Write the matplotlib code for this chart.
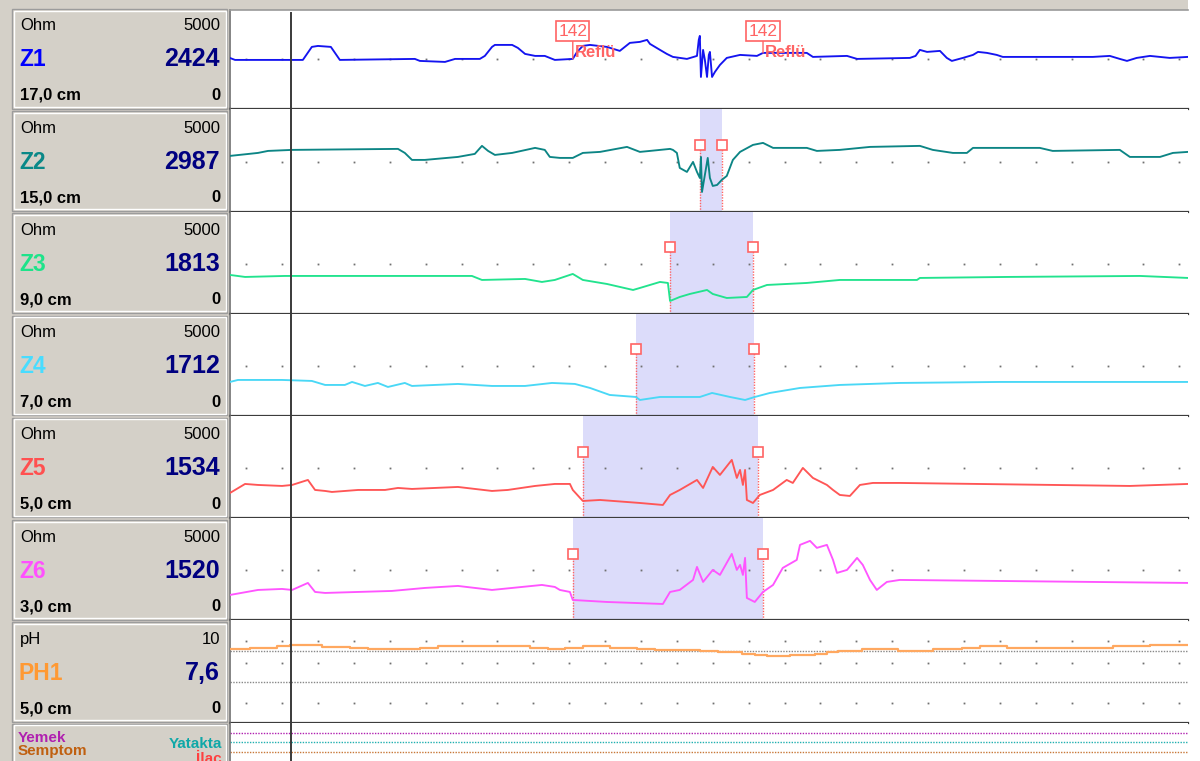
import numpy as np
import matplotlib.pyplot as plt
from matplotlib.patches import Rectangle

plt.rcParams['font.family'] = ['Liberation Sans', 'DejaVu Sans']

# impedance channels: time (s) and impedance (Ohm)
z1_t = [0, 0.14, 2.03, 2.28, 2.45, 2.81, 3.06, 5.15, 5.29, 5.99, 6.27, 6.96, 7.10, 7.30, 7.38,
        7.86, 8.02, 8.22, 8.50, 8.77, 9.05, 9.55, 9.67, 9.83, 10.03, 10.50, 10.86, 11.14, 11.42,
        11.62, 11.70, 11.98, 12.17, 12.34, 12.73, 13.01, 13.06, 13.09, 13.12, 13.18, 13.23, 13.29,
        13.34, 13.37, 13.43, 13.51, 13.65, 13.84, 14.21, 14.68, 14.85, 16.07, 16.24, 17.19, 17.47,
        18.94, 19.10, 19.22, 19.42, 19.78, 19.97, 20.11, 20.42, 20.70, 20.84, 21.09, 21.36, 21.53,
        24.04, 24.51, 24.79, 24.99, 25.26, 25.63, 26.18, 26.69]
z1_v = [2510, 2416, 2416, 3053, 3100, 3053, 2416, 2465, 2367, 2318, 2465, 2465, 2612, 3053, 3150,
        3150, 3004, 2710, 2612, 2612, 2416, 2465, 2808, 3102, 3150, 3053, 2857, 3249, 3298,
        3396, 3200, 2906, 2710, 2563, 2465, 2612, 3396, 3592, 1582, 2906, 2416, 1582,
        2660, 2808, 1582, 1828, 2171, 2514, 2661, 2612, 2759, 2759, 2563, 2612, 2465,
        2514, 2612, 2906, 2808, 2857, 2514, 2367, 2514, 2661, 2808, 2759, 2661, 2563,
        2563, 2612, 2465, 2367, 2514, 2612, 2514, 2563]

z2_t = [0, 0.78, 1.06, 1.73, 4.68, 4.87, 5.07, 5.43, 6.35, 6.82, 7.02, 7.19, 7.38, 7.86, 8.50,
        8.77, 8.91, 9.19, 9.55, 9.83, 10.31, 11.06, 11.42, 11.70, 12.26, 12.34, 12.45, 12.53,
        12.73, 12.90, 13.01, 13.09, 13.12, 13.15, 13.23, 13.31, 13.37, 13.45, 13.57, 13.70,
        13.84, 14.01, 14.21, 14.57, 14.85, 15.13, 16.07, 16.35, 16.99, 17.83, 19.22, 19.58,
        20.14, 20.53, 20.70, 22.56, 22.92, 24.79, 25.07, 25.91, 26.27, 26.69]
z2_v = [2720, 2866, 2964, 3014, 3063, 2866, 2524, 2524, 2670, 2818, 3210, 2964, 2768, 2866, 3112,
        3014, 2670, 2622, 2622, 2866, 2916, 3160, 2916, 2964, 3063, 3014, 2866, 2132,
        1936, 2426, 1936, 1642, 2670, 956, 1788, 2622, 1642, 1250, 1298, 1544,
        1740, 2524, 2916, 3258, 3356, 3112, 3112, 2964, 3014, 3160, 3210, 3014,
        2866, 2866, 3112, 3112, 2964, 3014, 2670, 2670, 2866, 2916]

z3_t = [0, 0.42, 1.53, 2.65, 6.74, 7.02, 8.22, 8.69, 9.05, 9.55, 9.83, 10.50, 11.23, 11.42,
        11.98, 12.20, 12.26, 12.53, 12.81, 13.29, 13.45, 13.84, 14.40, 14.57, 14.96, 16.07,
        16.99, 19.14, 19.22, 21.64, 25.35, 26.69]
z3_v = [1896, 1798, 1847, 1847, 1847, 1651, 1700, 1553, 1651, 1945, 1651, 1455, 1161, 1259,
        1553, 1504, 622, 818, 965, 1161, 965, 769, 818, 1161, 1406, 1504,
        1651, 1651, 1749, 1798, 1847, 1749]

z4_t = [0, 0.22, 1.45, 2.28, 2.65, 3.20, 3.40, 3.76, 4.12, 4.40, 4.87, 5.07, 6.35, 7.30, 8.22,
        8.97, 9.61, 10.03, 10.58, 11.31, 11.42, 11.98, 13.09, 13.43, 13.93, 14.35, 14.62,
        15.04, 15.88, 16.99, 18.66, 21.45, 26.69]
z4_v = [1661, 1759, 1759, 1710, 1514, 1514, 1661, 1465, 1612, 1416, 1612, 1465, 1563, 1465, 1465,
        1612, 1563, 1367, 1024, 926, 779, 926, 926, 1122, 926, 779, 926,
        1122, 1367, 1514, 1612, 1661, 1661]

z5_t = [0, 0.42, 0.78, 1.45, 1.73, 2.17, 2.37, 2.65, 2.84, 3.57, 4.32, 4.68, 5.07, 6.35, 7.30,
        7.74, 8.50, 9.05, 9.47, 9.55, 9.83, 10.31, 11.42, 12.06, 12.26, 12.53, 13.01, 13.18,
        13.45, 13.65, 13.98, 14.12, 14.21, 14.29, 14.35, 14.40, 14.57, 14.76, 15.13, 15.51,
        15.68, 15.96, 16.24, 16.63, 16.80, 16.99, 17.27, 17.55, 17.91, 18.66, 25.07, 26.69]
z5_v = [1230, 1671, 1622, 1573, 1622, 1867, 1377, 1328, 1279, 1377, 1377, 1475, 1426, 1524, 1328,
        1377, 1573, 1671, 1671, 1377, 838, 887, 740, 642, 1132, 1377, 1867, 1475,
        2504, 2112, 2847, 1965, 2357, 1622, 2357, 887, 740, 1132, 1377, 1867,
        1720, 2455, 1965, 1622, 1377, 1132, 1083, 1622, 1720, 1720, 1573, 1671]

z6_t = [0, 0.78, 1.45, 1.73, 2.17, 2.37, 2.65, 3.57, 4.51, 5.43, 6.35, 7.30, 7.86, 8.69, 9.05,
        9.19, 9.47, 9.55, 10.50, 12.06, 12.26, 12.53, 12.90, 13.01, 13.18, 13.45, 13.65, 13.98,
        14.12, 14.21, 14.29, 14.35, 14.40, 14.62, 14.85, 15.13, 15.40, 15.79, 15.88, 16.16,
        16.35, 16.63, 16.80, 16.91, 17.19, 17.47, 17.63, 17.83, 18.02, 18.30, 18.66, 26.69]
z6_v = [1240, 1485, 1534, 1485, 1828, 1387, 1338, 1387, 1436, 1583, 1681, 1485, 1583, 1730, 1632,
        1485, 1387, 995, 897, 799, 1387, 1485, 1975, 2612, 1877, 2465, 2220, 3249,
        2465, 2710, 2220, 3053, 1093, 897, 1387, 1730, 2563, 2955, 3690, 3886,
        3543, 3690, 2955, 2318, 2465, 3053, 2710, 1975, 1485, 1877, 1975, 1828]

# pH channel, stepwise
ph_t = [0, 0.56, 1.31, 1.68, 2.56, 3.34, 3.84, 5.29, 5.79, 8.36, 8.86, 9.33, 9.83, 10.58, 11.34,
        11.84, 13.09, 13.59, 14.26, 14.62, 14.96, 15.60, 16.30, 16.63, 16.94, 17.60, 18.61,
        19.58, 20.39, 20.89, 21.64, 24.60, 25.63, 26.69]
ph_v = [7.15, 7.3, 7.45, 7.6, 7.4, 7.3, 7.15, 7.3, 7.45, 7.3, 7.15, 7.3, 7.45, 7.3, 7.15,
        7.05, 7.0, 6.9, 6.75, 6.65, 6.55, 6.65, 6.75, 6.9, 7.0, 7.15, 7.0,
        7.15, 7.3, 7.45, 7.3, 7.45, 7.55, 7.55]

channels = ['Z1', 'Z2', 'Z3', 'Z4', 'Z5', 'Z6']
depths = ['17,0 cm', '15,0 cm', '9,0 cm', '7,0 cm', '5,0 cm', '3,0 cm']
cursor_vals = ['2424', '2987', '1813', '1712', '1534', '1520']
trace_colors = ['#1414F0', '#0C8585', '#22E38E', '#4AD8F6', '#FF5656', '#FF55FF']
label_colors = ['#0000FF', '#0A8888', '#1EE38A', '#48DCFF', '#FF5050', '#FF50FF']

# bolus passage per channel (s), none on Z1
bolus_start = [None, 13.09, 12.26, 11.31, 9.83, 9.55]
bolus_end = [None, 13.70, 14.57, 14.60, 14.71, 14.85]
bolus_mark = 3250

reflux_id = '142'
reflux_times = [9.55, 14.85]
reflux_text = 'Reflü'
reflux_box_y = 3830
reflux_text_y = 2540

cursor_t = 1.70
ph_cursor = '7,6'
ph_depth = '5,0 cm'

event_names = ['Yemek', 'Yatakta', 'Semptom']
event_colors = ['#B020B0', '#20B0B0', '#C87838']

PANEL = '#D4D0C8'
MARK = '#FF6464'
NAVY = '#000080'
t_max = 26.69
dot_t = np.arange(0.45, t_max, 1.0)

W, H = 1200, 761
fig = plt.figure(figsize=(W / 100, H / 100), dpi=100, facecolor='white')
bg = fig.add_axes([0, 0, 1, 1])
bg.set_xlim(0, W)
bg.set_ylim(H, 0)
bg.axis('off')
bg.add_patch(Rectangle((0, 0), 229, H, color=PANEL, lw=0))
bg.add_patch(Rectangle((0, 0), 1188, 9.5, color=PANEL, lw=0))

x0, x1 = 230, 1188
pitch = 102.2
lines = [109.3 + pitch * k for k in range(7)]
tops = [10] + lines[:-1]


def track(top, bottom):
    ax = fig.add_axes([x0 / W, 1 - bottom / H, (x1 - x0) / W, (bottom - top) / H])
    ax.set_xlim(0, t_max)
    ax.set_xticks([])
    ax.set_yticks([])
    for s in ax.spines.values():
        s.set_visible(False)
    ax.spines['left'].set_visible(True)
    ax.spines['left'].set_color('#707070')
    ax.spines['left'].set_linewidth(1.2)
    return ax


# left-hand label panels
def panel(k, unit, vmax, name, ncolor, value, depth):
    top = 9 + pitch * k
    bg.add_patch(Rectangle((12, top), 215, 99.5, fc=PANEL, ec='#9C9C9C', lw=1))
    bg.add_patch(Rectangle((13.5, top + 1.5), 212, 96.5, fc='none', ec='white', lw=1))
    bg.text(20, top + 21.5, unit, fontsize=12, va='baseline', ha='left')
    bg.text(220, top + 21.5, vmax, fontsize=12, va='baseline', ha='right')
    bg.text(19, top + 57.5, name, fontsize=16.5, fontweight='bold', color=ncolor,
            va='baseline', ha='left')
    bg.text(220, top + 57.5, value, fontsize=18, fontweight='bold', color=NAVY,
            va='baseline', ha='right')
    bg.text(20, top + 91, depth, fontsize=12, fontweight='bold', va='baseline', ha='left')
    bg.text(220, top + 91, '0', fontsize=12, fontweight='bold', va='baseline', ha='right')


z_t = [z1_t, z2_t, z3_t, z4_t, z5_t, z6_t]
z_v = [z1_v, z2_v, z3_v, z4_v, z5_v, z6_v]

for k in range(6):
    ax = track(tops[k], lines[k])
    ax.set_ylim(0, 5000 * (lines[k] - tops[k]) / pitch)
    ax.spines['bottom'].set_visible(True)
    ax.spines['bottom'].set_color('#3C3C3C')
    ax.spines['bottom'].set_linewidth(1.6)
    if k == 0:
        ax.spines['top'].set_visible(True)
        ax.spines['top'].set_color('#9A9A9A')
        ax.spines['top'].set_linewidth(1.2)
    ax.plot(dot_t, np.full(len(dot_t), 2440), ls='none', marker='s', ms=1.3,
            mew=0, color='#707070', zorder=1)
    if bolus_start[k] is not None:
        ax.axvspan(bolus_start[k], bolus_end[k], color='#DCDCFA', lw=0, zorder=0.5)
        for tb in (bolus_start[k], bolus_end[k]):
            ax.vlines(tb, 0, bolus_mark, colors=MARK, linestyles=(0, (1, 1)), lw=1, zorder=2)
            ax.plot(tb, bolus_mark, marker='s', ms=7, mfc='white', mec=MARK, mew=1.2, zorder=4)
    ax.plot(z_t[k], z_v[k], color=trace_colors[k], lw=1.35, zorder=3)
    ax.axvline(cursor_t, ymax=0.97 if k == 0 else 1, color='#3A3A3A', lw=1.4, zorder=5)
    panel(k, 'Ohm', '5000', channels[k], label_colors[k], cursor_vals[k], depths[k])
    if k == 0:
        for tr in reflux_times:
            vr = np.interp(tr, z1_t, z1_v)
            ax.annotate(reflux_id, xy=(tr, vr), xytext=(tr, reflux_box_y),
                        ha='center', va='center', fontsize=12.5, color=MARK, zorder=6,
                        bbox=dict(boxstyle='square,pad=0.12', fc='white', ec=MARK, lw=1.2),
                        arrowprops=dict(arrowstyle='-', color=MARK, lw=1, shrinkA=0, shrinkB=0))
            ax.annotate(reflux_text, xy=(tr, reflux_text_y), xytext=(1.5, 0),
                        textcoords='offset points', ha='left', va='baseline',
                        fontsize=12, fontweight='bold', color=MARK, zorder=6)

# pH track
ax = track(tops[6], lines[6])
ax.set_ylim(0, 10)
ax.spines['bottom'].set_visible(True)
ax.spines['bottom'].set_color('#3C3C3C')
ax.spines['bottom'].set_linewidth(1.6)
for ref in (7, 4):
    ax.axhline(ref, color='#888888', lw=1, ls=(0, (1, 1)), zorder=1)
for lvl in (8, 5.85, 1.9):
    ax.plot(dot_t, np.full(len(dot_t), lvl), ls='none', marker='s', ms=1.3,
            mew=0, color='#707070', zorder=1)
ax.plot(ph_t, ph_v, color='#FFA860', lw=1.6, drawstyle='steps-post', zorder=3)
ax.axvline(cursor_t, color='#3A3A3A', lw=1.4, zorder=5)
panel(6, 'pH', '10', 'PH1', '#FF9933', ph_cursor, ph_depth)

# event track
ev_top = lines[6]
ax = track(ev_top, H)
ax.set_ylim(3.0, -1.1)
for i, c in enumerate(event_colors):
    ax.axhline(i, color=c, lw=1, ls=(0, (1, 1)))
ax.axvline(cursor_t, color='#3A3A3A', lw=1.4, zorder=5)
bg.add_patch(Rectangle((12, ev_top + 1), 215, 60, fc=PANEL, ec='#9C9C9C', lw=1))
bg.add_patch(Rectangle((13.5, ev_top + 2.5), 212, 60, fc='none', ec='white', lw=1))
bg.text(18, 741.5, event_names[0], fontsize=11, fontweight='bold', color=event_colors[0],
        va='baseline')
bg.text(222, 748, event_names[1], fontsize=11, fontweight='bold', color='#10A8A8',
        va='baseline', ha='right')
bg.text(18, 755.5, event_names[2], fontsize=11, fontweight='bold', color='#C06010',
        va='baseline')
bg.text(222, 763, 'İlaç', fontsize=11, fontweight='bold', color='#FF4040',
        va='baseline', ha='right')

fig.savefig('out.png', dpi=100, facecolor=fig.get_facecolor())
